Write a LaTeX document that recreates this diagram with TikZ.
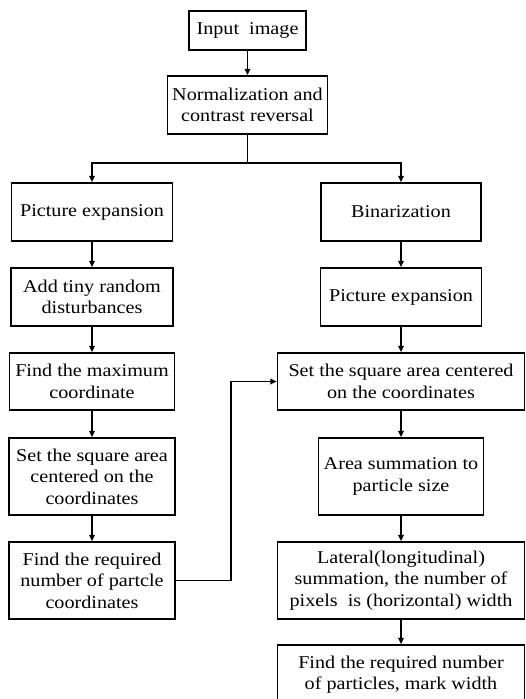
\documentclass[tikz,border=0pt]{standalone}
\usepackage{fontspec}
\setmainfont{Liberation Serif}[FakeStretch=1.12]
\usetikzlibrary{arrows.meta}

\begin{document}
\begin{tikzpicture}[
    x=0.5pt, y=-0.5pt,
    stepbox/.style 2 args={draw, line width=0.8pt, align=center, inner sep=1pt,
        minimum width=#1, minimum height=#2, font=\fontsize{9}{10.75}\selectfont},
    flow/.style={draw, line width=0.8pt, -{Triangle[length=3.2pt, width=2.8pt]}}
]
    \clip (0,0) rectangle (525,699);

    % Top Nodes
    \node[stepbox={58.5pt}{19.5pt}] (input) at (247.5,30.5) {Input\ \ image};
    \node[stepbox={80pt}{29pt}] (norm) at (247.5,105) {Normalization and\\contrast reversal};

    % Left Branch
    \node[stepbox={80.5pt}{29pt}] (pexpL) at (92,212) {Picture expansion};
    \node[stepbox={81pt}{29pt}] (addL) at (92,297) {Add tiny random\\disturbances};
    \node[stepbox={82.5pt}{28.5pt}] (maxL) at (92,381.5) {Find the maximum\\coordinate};
    \node[stepbox={83pt}{38.5pt}] (setL) at (92,476.5) {Set the square area\\centered on the\\coordinates};
    \node[stepbox={83pt}{38.5pt}] (findL) at (92,580.5) {Find the required\\number of partcle\\coordinates};

    % Right Branch
    \node[stepbox={80pt}{29pt}] (bin) at (401,212) {Binarization};
    \node[stepbox={80.5pt}{29pt}] (pexpR) at (401,297) {Picture expansion};
    \node[stepbox={123.5pt}{28.5pt}] (setR) at (401,381.5) {Set the square area centered\\on the coordinates};
    \node[stepbox={82.5pt}{38.5pt}] (areaR) at (401,476.5) {Area summation to\\particle size};
    \node[stepbox={123.5pt}{38.5pt}] (latR) at (401,580.5) {Lateral(longitudinal)\\summation, the number of\\pixels\ \ is (horizontal) width};
    \node[stepbox={123.5pt}{38.5pt}] (findR) at (401,683.5) {Find the required number\\of particles, mark width\\\vphantom{X}};

    % Connectors
    \draw[flow] (input) -- (norm);
    \draw[line width=0.8pt] (norm.south) -- ++(0,28) coordinate (split);
    \draw[flow] (split) -| (pexpL);
    \draw[flow] (split) -| (bin);
    \draw[flow] (pexpL) -- (addL);
    \draw[flow] (addL) -- (maxL);
    \draw[flow] (maxL) -- (setL);
    \draw[flow] (setL) -- (findL);
    \draw[flow] (bin) -- (pexpR);
    \draw[flow] (pexpR) -- (setR);
    \draw[flow] (setR) -- (areaR);
    \draw[flow] (areaR) -- (latR);
    \draw[flow] (latR) -- (findR);
    \draw[flow] (findL.east) -- ++(55,0) |- (setR.west);
\end{tikzpicture}
\end{document}
